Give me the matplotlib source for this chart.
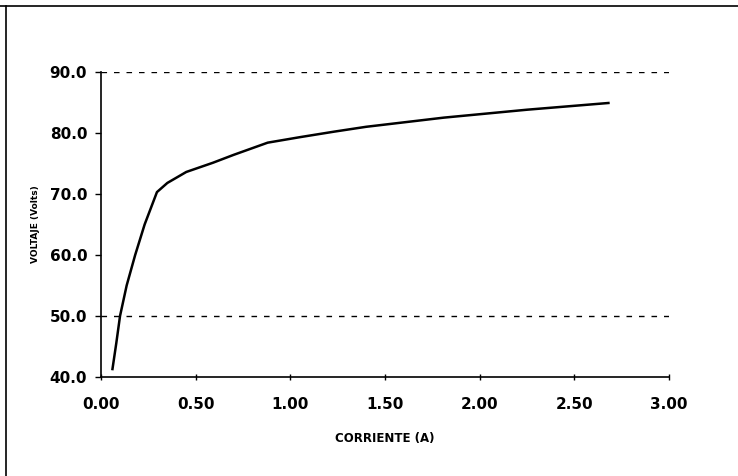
import matplotlib
matplotlib.use("Agg")
import matplotlib.pyplot as plt
from matplotlib.lines import Line2D

plt.rcParams["font.family"] = ["DejaVu Sans"]
plt.rcParams["font.weight"] = "bold"

# curva V-I medida
corriente = [0.06, 0.08, 0.10, 0.135, 0.18, 0.23, 0.295, 0.35, 0.45, 0.59,
             0.70, 0.88, 1.05, 1.23, 1.40, 1.81, 2.25, 2.68]
voltaje = [41.3, 45.5, 50.0, 55.0, 60.0, 65.0, 70.3, 71.8, 73.6, 75.1,
           76.4, 78.4, 79.3, 80.2, 81.0, 82.5, 83.8, 84.9]

x_ticks = [0.0, 0.5, 1.0, 1.5, 2.0, 2.5, 3.0]
y_ticks = [40, 50, 60, 70, 80, 90]
grid_y = [50, 90]

fig = plt.figure(figsize=(7.38, 4.76), dpi=100)
ax = fig.add_axes([0.137, 0.208, 0.7695, 0.641])

for g in grid_y:
    ax.axhline(g, color="black", lw=1.0, ls=(0, (4, 5)), zorder=1)

ax.plot(corriente, voltaje, color="black", lw=1.8, zorder=3)

ax.set_xlim(0, 3.0)
ax.set_ylim(40, 90)
ax.set_xticks(x_ticks)
ax.set_yticks(y_ticks)
ax.set_xticklabels([f"{v:.2f}" for v in x_ticks], fontsize=11, fontweight="bold")
ax.set_yticklabels([f"{v:.1f}" for v in y_ticks], fontsize=11, fontweight="bold")
ax.tick_params(axis="x", direction="inout", length=5, width=1, pad=12)
ax.tick_params(axis="y", direction="out", length=4, width=1, pad=6)

for side in ("top", "right"):
    ax.spines[side].set_visible(False)
for side in ("left", "bottom"):
    ax.spines[side].set_linewidth(1.2)

ax.set_xlabel("CORRIENTE (A)", fontsize=8.5, fontweight="bold", labelpad=14)
ax.set_ylabel("VOLTAJE (Volts)", fontsize=6.5, fontweight="bold", labelpad=7)

# marco exterior (solo borde superior e izquierdo)
fig.add_artist(Line2D([0.0, 1.0], [0.988, 0.988], transform=fig.transFigure,
                      color="black", lw=1.2))
fig.add_artist(Line2D([0.008, 0.008], [0.0, 0.988], transform=fig.transFigure,
                      color="black", lw=1.2))

fig.savefig("out.png", dpi=100)
